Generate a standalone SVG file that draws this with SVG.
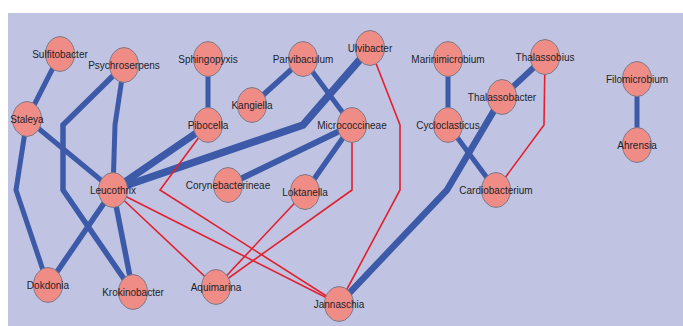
<svg xmlns="http://www.w3.org/2000/svg" width="683" height="326" viewBox="0 0 683 326">
<style>
.n ellipse{fill:#f08c86;stroke:#7a7a8a;stroke-width:1}
.n text{font-family:"Liberation Sans",Arial,sans-serif;font-size:10px;fill:#1e1e28;text-anchor:middle;dominant-baseline:central}
.b{fill:none;stroke:#3c5aa8;stroke-linejoin:miter}
.r{fill:none;stroke:#e2202e;stroke-width:1.6}
</style>
<rect x="0" y="0" width="683" height="326" fill="#ffffff"/>
<rect x="8" y="13" width="675" height="313" fill="#c0c4e2"/>
<g id="connectors">
<line class="b" stroke-width="5" x1="60" y1="54" x2="27" y2="119"/>
<polyline class="b" stroke-width="5" points="27,119 16,190 48,285"/>
<line class="b" stroke-width="5" x1="27" y1="119" x2="113" y2="190"/>
<polyline class="b" stroke-width="5.5" points="124,65 63,125 63,190 133,292"/>
<polyline class="b" stroke-width="5" points="124,65 115,125 113,190"/>
<line class="b" stroke-width="5" x1="208" y1="59" x2="208" y2="125"/>
<line class="b" stroke-width="7" x1="208" y1="125" x2="113" y2="190"/>
<line class="b" stroke-width="5.5" x1="303" y1="59" x2="252" y2="105"/>
<line class="b" stroke-width="5" x1="303" y1="59" x2="352" y2="125"/>
<polyline class="b" stroke-width="7.5" points="370,48 303,125 113,190"/>
<line class="b" stroke-width="6" x1="352" y1="125" x2="228" y2="185"/>
<line class="b" stroke-width="5.5" x1="352" y1="125" x2="305" y2="192"/>
<line class="b" stroke-width="5" x1="448" y1="59" x2="448" y2="125"/>
<line class="b" stroke-width="6" x1="545" y1="57" x2="502" y2="97"/>
<polyline class="b" stroke-width="6.5" points="502,97 447,190 339,304"/>
<line class="b" stroke-width="5" x1="448" y1="125" x2="496" y2="190"/>
<line class="b" stroke-width="5" x1="637" y1="79" x2="637" y2="145"/>
<line class="b" stroke-width="5.5" x1="113" y1="190" x2="48" y2="285"/>
<line class="b" stroke-width="5.5" x1="113" y1="190" x2="133" y2="292"/>
<polyline class="r" points="545,57 544,125 496,190"/>
<polyline class="r" points="370,48 400,125 400,190 339,304"/>
<polyline class="r" points="352,125 352,190 216,287"/>
<line class="r" x1="305" y1="192" x2="216" y2="287"/>
<polyline class="r" points="208,125 160,190 339,304"/>
<line class="r" x1="113" y1="190" x2="216" y2="287"/>
<line class="r" stroke="#e0485a" stroke-width="0.9" x1="113" y1="190" x2="339" y2="304"/>
</g>
<g id="Sulfitobacter" class="n"><ellipse cx="60" cy="54" rx="14.5" ry="17.5"/><text x="60" y="54">Sulfitobacter</text></g>
<g id="Psychroserpens" class="n"><ellipse cx="124" cy="65" rx="14.5" ry="17.5"/><text x="124" y="65">Psychroserpens</text></g>
<g id="Staleya" class="n"><ellipse cx="27" cy="119" rx="14.5" ry="17.5"/><text x="27" y="119">Staleya</text></g>
<g id="Sphingopyxis" class="n"><ellipse cx="208" cy="59" rx="14.5" ry="17.5"/><text x="208" y="59">Sphingopyxis</text></g>
<g id="Pibocella" class="n"><ellipse cx="208" cy="125" rx="14.5" ry="17.5"/><text x="208" y="125">Pibocella</text></g>
<g id="Parvibaculum" class="n"><ellipse cx="303" cy="59" rx="14.5" ry="17.5"/><text x="303" y="59">Parvibaculum</text></g>
<g id="Kangiella" class="n"><ellipse cx="252" cy="105" rx="14.5" ry="17.5"/><text x="252" y="105">Kangiella</text></g>
<g id="Ulvibacter" class="n"><ellipse cx="370" cy="48" rx="14.5" ry="17.5"/><text x="370" y="48">Ulvibacter</text></g>
<g id="Micrococcineae" class="n"><ellipse cx="352" cy="125" rx="14.5" ry="17.5"/><text x="352" y="125">Micrococcineae</text></g>
<g id="Marinimicrobium" class="n"><ellipse cx="448" cy="59" rx="14.5" ry="17.5"/><text x="448" y="59">Marinimicrobium</text></g>
<g id="Thalassobius" class="n"><ellipse cx="545" cy="57" rx="14.5" ry="17.5"/><text x="545" y="57">Thalassobius</text></g>
<g id="Thalassobacter" class="n"><ellipse cx="502" cy="97" rx="14.5" ry="17.5"/><text x="502" y="97">Thalassobacter</text></g>
<g id="Cycloclasticus" class="n"><ellipse cx="448" cy="125" rx="14.5" ry="17.5"/><text x="448" y="125">Cycloclasticus</text></g>
<g id="Filomicrobium" class="n"><ellipse cx="637" cy="79" rx="14.5" ry="17.5"/><text x="637" y="79">Filomicrobium</text></g>
<g id="Ahrensia" class="n"><ellipse cx="637" cy="145" rx="14.5" ry="17.5"/><text x="637" y="145">Ahrensia</text></g>
<g id="Cardiobacterium" class="n"><ellipse cx="496" cy="190" rx="14.5" ry="17.5"/><text x="496" y="190">Cardiobacterium</text></g>
<g id="Leucothrix" class="n"><ellipse cx="113" cy="190" rx="14.5" ry="17.5"/><text x="113" y="190">Leucothrix</text></g>
<g id="Corynebacterineae" class="n"><ellipse cx="228" cy="185" rx="14.5" ry="17.5"/><text x="228" y="185">Corynebacterineae</text></g>
<g id="Loktanella" class="n"><ellipse cx="305" cy="192" rx="14.5" ry="17.5"/><text x="305" y="192">Loktanella</text></g>
<g id="Dokdonia" class="n"><ellipse cx="48" cy="285" rx="14.5" ry="17.5"/><text x="48" y="285">Dokdonia</text></g>
<g id="Krokinobacter" class="n"><ellipse cx="133" cy="292" rx="14.5" ry="17.5"/><text x="133" y="292">Krokinobacter</text></g>
<g id="Aquimarina" class="n"><ellipse cx="216" cy="287" rx="14.5" ry="17.5"/><text x="216" y="287">Aquimarina</text></g>
<g id="Jannaschia" class="n"><ellipse cx="339" cy="304" rx="14.5" ry="17.5"/><text x="339" y="304">Jannaschia</text></g>
</svg>
